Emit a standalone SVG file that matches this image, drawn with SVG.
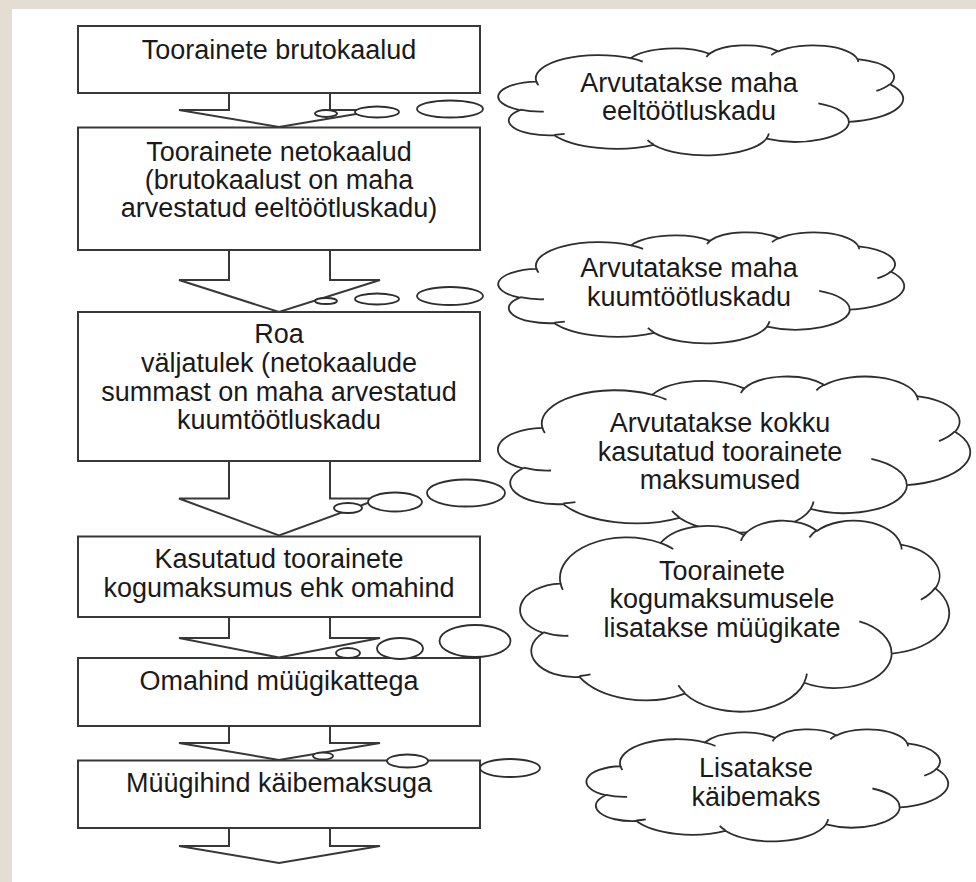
<svg xmlns="http://www.w3.org/2000/svg" width="976" height="882" viewBox="0 0 976 882">
<style>
.bx{fill:#fff;stroke:#383838;stroke-width:2}
.ar{fill:none;stroke:#383838;stroke-width:2;stroke-linejoin:miter}
.cl{fill:#fff;stroke:#2e2e2e;stroke-width:1.8;vector-effect:non-scaling-stroke}
.cli{fill:none;stroke:#2e2e2e;stroke-width:1.8;vector-effect:non-scaling-stroke}
.tl{fill:#fff;stroke:#2e2e2e;stroke-width:1.8}
text{font-family:"Liberation Sans",Arial,sans-serif;font-size:27px;fill:#1a1a1a;text-anchor:middle}
</style>
<defs>
<g id="cloud">
<path class="cl" d="M90.3 332.6 A156.3 212.7 0 0 1 324.2 120.4 A123.4 168.2 0 0 1 519.9 79.5 A101.0 137.6 0 0 1 690.6 57.5 A112.4 152.7 0 0 1 887.0 129.1 A123.4 168.4 0 0 1 968.0 357.9 A156.8 213.4 0 0 1 865.9 699.2 A133.9 182.1 0 0 1 661.1 852.2 A156.3 213.3 0 0 1 381.5 909.0 A178.7 244.1 0 0 1 134.4 821.2 A100.9 137.0 0 0 1 49.0 591.5 A100.6 137.6 0 0 1 90.3 332.6 Z"/>
<path class="cli" d="M108.6 605.9 A100.6 137.6 0 0 1 50.0 587.5 M160.4 807.9 A100.9 137.0 0 0 1 134.7 816.7 M381.4 904.9 A156.3 213.3 0 0 1 366.0 864.6 M667.3 804.4 A156.3 213.3 0 0 1 661.1 848.6 M790.0 531.3 A133.9 182.1 0 0 1 865.3 696.5 M967.5 355.4 A123.4 168.4 0 0 1 934.0 417.4 M887.1 125.6 A112.4 152.7 0 0 1 888.9 154.9 M673.1 91.5 A112.4 152.7 0 0 1 690.3 54.1 M512.5 109.3 A101.0 137.6 0 0 1 520.8 77.1 M324.1 120.2 A156.3 212.7 0 0 1 354.2 151.5 M95.5 365.5 A156.3 212.7 0 0 1 90.3 332.6"/>
</g>
</defs>
<rect x="0" y="0" width="976" height="882" fill="#e3ddd3"/>
<rect x="12" y="9" width="964" height="873" fill="#ffffff"/>

<g id="box1"><rect class="bx" x="78" y="26" width="402" height="67"/><text x="279" y="59">Toorainete brutokaalud</text></g>
<g id="box2"><rect class="bx" x="78" y="127.5" width="402" height="122.5"/><text x="279" y="161">Toorainete netokaalud</text><text x="279" y="189">(brutokaalust on maha</text><text x="279" y="217">arvestatud eeltöötluskadu)</text></g>
<g id="box3"><rect class="bx" x="78" y="312" width="402" height="149"/><text x="279" y="343">Roa</text><text x="279" y="372">väljatulek (netokaalude</text><text x="279" y="401">summast on maha arvestatud</text><text x="279" y="429">kuumtöötluskadu</text></g>
<g id="box4"><rect class="bx" x="78" y="536.5" width="402" height="80.5"/><text x="279" y="568">Kasutatud toorainete</text><text x="279" y="597">kogumaksumus ehk omahind</text></g>
<g id="box5"><rect class="bx" x="78" y="658" width="402" height="68"/><text x="279" y="690">Omahind müügikattega</text></g>
<g id="box6"><rect class="bx" x="78" y="760.5" width="402" height="67.5"/><text x="279" y="792">Müügihind käibemaksuga</text></g>

<g id="connectors">
<polyline class="ar" points="229,93 229,110 179,110 279,127 380,110 330,110 330,93"/>
<polyline class="ar" points="229,250 229,280 179,280 279,312 380,280 330,280 330,250"/>
<polyline class="ar" points="229,461 229,498.5 179,498.5 279,535.5 380,498.5 330,498.5 330,461"/>
<polyline class="ar" points="229,617 229,638 179,638 279,657.5 380,638 330,638 330,617"/>
<polyline class="ar" points="229,726 229,743 179,743 279,760 380,743 330,743 330,726"/>
<polyline class="ar" points="229,828 229,846 179,846 279,863 380,846 330,846 330,828"/>
</g>

<g id="callout1">
<ellipse class="tl" cx="326" cy="113.5" rx="11" ry="3.5"/>
<ellipse class="tl" cx="377" cy="112" rx="22" ry="5.5"/>
<ellipse class="tl" cx="450" cy="109" rx="33" ry="8.5"/>
<use href="#cloud" transform="translate(500,45) scale(0.403,0.110)"/>
<text x="689" y="92">Arvutatakse maha</text><text x="689" y="120">eeltöötluskadu</text>
</g>
<g id="callout2">
<ellipse class="tl" cx="326" cy="301" rx="11" ry="3"/>
<ellipse class="tl" cx="377" cy="299" rx="22" ry="5.5"/>
<ellipse class="tl" cx="450" cy="296" rx="33" ry="9"/>
<use href="#cloud" transform="translate(500,232) scale(0.404,0.111)"/>
<text x="689" y="277">Arvutatakse maha</text><text x="689" y="306">kuumtöötluskadu</text>
</g>
<g id="callout3">
<ellipse class="tl" cx="348" cy="508" rx="14" ry="5"/>
<ellipse class="tl" cx="395" cy="502" rx="27" ry="9.5"/>
<ellipse class="tl" cx="466" cy="493" rx="39" ry="13.5"/>
<use href="#cloud" transform="translate(500,376) scale(0.470,0.156)"/>
<text x="720" y="432">Arvutatakse kokku</text><text x="720" y="461">kasutatud toorainete</text><text x="720" y="489">maksumused</text>
</g>
<g id="callout4">
<ellipse class="tl" cx="348" cy="653" rx="12" ry="5"/>
<ellipse class="tl" cx="400" cy="648.5" rx="23" ry="10.5"/>
<ellipse class="tl" cx="475" cy="641" rx="35.5" ry="16"/>
<use href="#cloud" transform="translate(522,520) scale(0.427,0.191)"/>
<text x="722" y="580">Toorainete</text><text x="722" y="608">kogumaksumusele</text><text x="722" y="637">lisatakse müügikate</text>
</g>
<g id="callout5">
<ellipse class="tl" cx="323" cy="756" rx="10" ry="3.5"/>
<ellipse class="tl" cx="407.5" cy="761" rx="20.5" ry="6.5"/>
<ellipse class="tl" cx="510" cy="768" rx="30" ry="9"/>
<use href="#cloud" transform="translate(588,729) scale(0.360,0.112)"/>
<text x="756" y="777">Lisatakse</text><text x="756" y="806">käibemaks</text>
</g>
</svg>
